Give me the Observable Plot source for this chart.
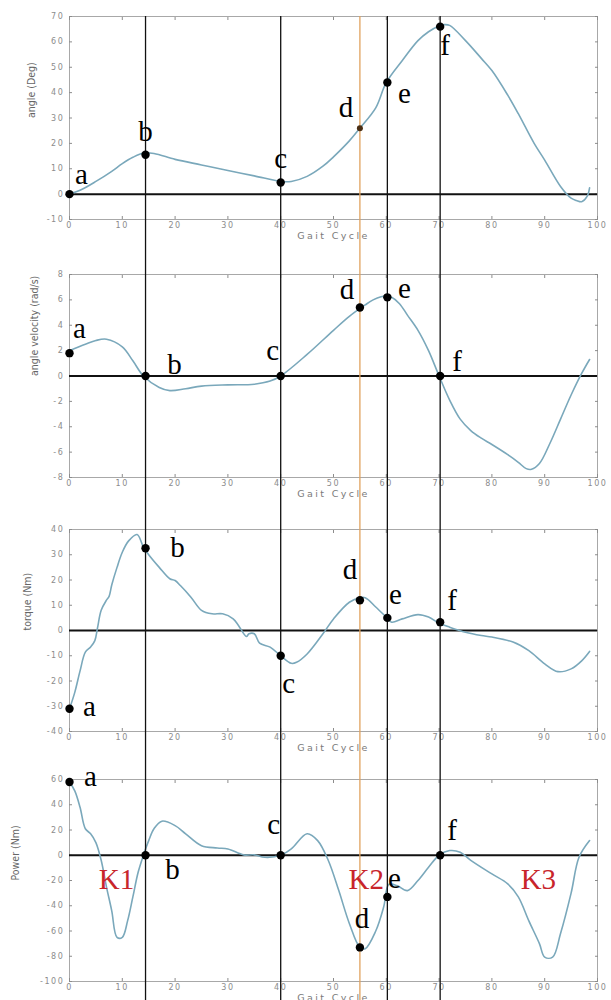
<!DOCTYPE html>
<html><head><meta charset="utf-8">
<script src="https://cdn.jsdelivr.net/npm/d3@7"></script>
<script src="https://cdn.jsdelivr.net/npm/@observablehq/plot@0.6"></script>
<style>
body{margin:0;background:#fff;}
#chart svg{display:block;}
g[aria-label="x-axis tick label"] text, g[aria-label="y-axis tick label"] text{letter-spacing:1.6px;}
.gait text{letter-spacing:2.4px;}
</style></head><body><div id="chart"></div>
<script>
// ---- data ----
const xTicks = [0,10,20,30,40,50,60,70,80,90,100];
const eventNames = ["a","b","c","d","e","f"];
const eventX = [0, 14.4, 40, 55, 60.2, 70.2];
const guideX = [14.4, 40, 60.2, 70.2];
const highlightX = [55];

const angleTicks = [-10,0,10,20,30,40,50,60,70];
const angleX = [0,2,5,8,10,12,14,16,20,25,30,35,40,42,45,48,50,53,55,58,60,63,66,68,70,71,72,75,78,80,83,85,88,90,93,95,96,97,98,98.5];
const angleY = [0,1.5,5,9,12,14.5,16.2,16,13.7,11.5,9.3,7.2,5,5,7,11,14.7,21,26,34,44,52.6,60.5,64,66.3,66.8,66.5,60.5,53.5,48.7,39,31.7,20,13.4,3,-1.6,-2.5,-3,-1,2.5];
const angleDots = [0, 15.5, 4.6, 26, 44, 66];

const velTicks = [-8,-6,-4,-2,0,2,4,6,8];
const velX = [0,3,5,7,10,12,14,17,19,22,25,30,35,38,40,45,50,53,56,57.5,59,60,61,62.5,64,66,68,70,72,74,76,78,80,83,85,86.5,87.5,89,91,93,95,97,98.5];
const velY = [2,2.5,2.8,2.9,2.3,1.2,0,-0.9,-1.15,-1,-0.8,-0.7,-0.65,-0.4,0,1.7,3.6,4.7,5.6,6.0,6.25,6.3,6.2,5.7,4.8,3.6,2.0,0,-1.9,-3.4,-4.3,-4.9,-5.4,-6.2,-6.8,-7.3,-7.35,-6.9,-5.3,-3.4,-1.5,0.2,1.3];
const velDots = [1.8, 0, 0, 5.4, 6.2, 0];

const torqueTicks = [-40,-30,-20,-10,0,10,20,30,40];
const torqueX = [0,1,2,3,4,4.8,5.3,6,7,7.5,8,9,10,11.2,12.8,14,15,17,19,20,21,23,25,27,29,31,32,33.5,34,35,36,38,40,42,43,45,48,50,53,55,56,58,60,61,63,66,68,70,72,75,78,80,84,87,90,92.5,95,97,98.5];
const torqueY = [-31,-24.5,-16,-8.6,-6.5,-4,1,8,12,13.5,18,25,31,35.5,38,33,30,25,20.5,19.8,17.8,13.2,8,6.6,6.6,4.6,2,-2.4,-1.3,-1.3,-5,-6.6,-10,-13,-12.6,-9.3,-1.3,4.6,11.2,13,13,9.3,5.3,3.3,4.6,6.3,5.3,2.9,1.3,-0.7,-2,-2.6,-4.6,-8,-13.2,-16.3,-15.2,-12,-8.3];
const torqueDots = [-31, 32.6, -10, 12, 5, 3.3];

const powerTicks = [-100,-80,-60,-40,-20,0,20,40,60];
const powerX = [0,1,2,3,4,5,6,7,8,9,10,11,12,13,14,15,16,17.5,20,22,25,28,30,33,35,37,40,42,45,47,49,51,53,55,56,58,59.5,60.5,62,64,66,68,70,72,74,76,80,83,85,87,89,90,91.5,93,95,96.5,98.5];
const powerY = [58,51,38,21,17,10,-4,-25,-44,-65,-65,-52,-33,-13.5,0,11.6,21,27,23.5,17,7.6,5.8,5,0.3,0.3,-1.6,0,5,17,11.6,-4,-28,-54,-73,-74,-60,-41,-23,-24,-28,-20,-9.5,0,3.7,2.4,-4,-14.8,-22.7,-33,-52,-70,-80.7,-80.7,-62,-30,-1.6,11.6];
const powerDots = [58, 0, 0, -73, -33, 0];

const phaseNames = ["K1","K2","K3"];
const phaseX = [8.9, 56.2, 88.8];
const phaseY = [-19, -19, -19];

// ---- drawing ----
const serif = "'Liberation Serif', 'Times New Roman', serif";
const narrow = "'Liberation Sans Narrow', 'DejaVu Sans Condensed', 'Liberation Sans', sans-serif";
const tickFont = "'DejaVu Sans', sans-serif";
const gray = "#8c8c8c";

function panel(cfg) {
  const curve = cfg.xs.map((x, i) => ({x, y: cfg.ys[i]}));
  const pts = eventX.map((x, i) => ({x, y: cfg.dots[i], name: eventNames[i]}));
  const marks = [
    Plot.frame({stroke: "#a8a8a8"}),
    Plot.axisX({ticks: xTicks, tickSize: -3, tickPadding: 6, tickFormat: d => String(d), label: null, color: gray, fontSize: 8, fontFamily: tickFont}),
    Plot.axisX({anchor: "top", ticks: xTicks, tickSize: -3, tickFormat: () => "", label: null, color: gray}),
    Plot.axisY({ticks: cfg.yTicks, tickSize: -3, tickPadding: 8, tickFormat: d => String(d), label: null, color: gray, fontSize: 8, fontFamily: tickFont}),
    Plot.axisY({anchor: "right", ticks: cfg.yTicks, tickSize: -3, tickFormat: () => "", label: null, color: gray}),
    Plot.text(["Gait Cycle"], {frameAnchor: "bottom", dy: 19, fill: "#7a7a7a", fontSize: 9.5, fontFamily: tickFont, className: "gait"}),
    Plot.text([cfg.yLabel], {frameAnchor: "left", rotate: -90, dx: cfg.yLabelDx, fill: "#666", fontSize: 10.5, fontFamily: narrow}),
    Plot.ruleY([0], {stroke: "#111", strokeWidth: 2}),
    Plot.line(curve, {x: "x", y: "y", stroke: "#7aa8bb", strokeWidth: 1.6, curve: "catmull-rom"}),
    Plot.ruleX(guideX, {stroke: "#111", strokeWidth: 1.3, insetTop: -cfg.ruleTop, insetBottom: -cfg.ruleBottom}),
    Plot.ruleX(highlightX, {stroke: "#e0a25e", strokeWidth: 1.3, insetTop: -cfg.ruleTop, insetBottom: -cfg.ruleBottom}),
  ];
  pts.forEach((p, i) => {
    const small = cfg.smallDot === i;
    marks.push(Plot.dot([p], {x: "x", y: "y", r: small ? 3 : 4.2, fill: small ? "#4a2e14" : "#000"}));
    marks.push(Plot.text([p], {x: "x", y: "y", text: "name", dx: cfg.offsets[i][0], dy: cfg.offsets[i][1], fontSize: 29, fontFamily: serif, fill: "#000"}));
  });
  if (cfg.phases) {
    marks.push(Plot.text(phaseNames.map((n, i) => ({n, x: phaseX[i], y: phaseY[i]})), {x: "x", y: "y", text: "n", fontSize: 29, fontFamily: serif, fill: "#c8252b"}));
  }
  return Plot.plot({
    width: 611, height: cfg.height,
    marginLeft: 69, marginRight: 14, marginTop: cfg.mt, marginBottom: cfg.mb,
    x: {domain: [0, 100]},
    y: {domain: cfg.yDomain},
    style: {background: "#fff", overflow: "visible"},
    marks
  });
}

const root = document.getElementById("chart");
root.append(panel({
  xs: angleX, ys: angleY, dots: angleDots, yDomain: [-10, 70], yTicks: angleTicks, yLabel: "angle (Deg)", yLabelDx: -38,
  height: 255, mt: 16, mb: 36, ruleTop: 0, ruleBottom: 36, smallDot: 3,
  offsets: [[12, -19], [0, -23], [0, -24], [-14, -20], [17, 11], [5, 19]]
}));
root.append(panel({
  xs: velX, ys: velY, dots: velDots, yDomain: [-8, 8], yTicks: velTicks, yLabel: "angle velocity (rad/s)", yLabelDx: -35,
  height: 255, mt: 19, mb: 33, ruleTop: 19, ruleBottom: 33,
  offsets: [[10, -24], [29, -11], [-8, -25], [-13, -18], [17, -9], [17, -14]]
}));
root.append(panel({
  xs: torqueX, ys: torqueY, dots: torqueDots, yDomain: [-40, 40], yTicks: torqueTicks, yLabel: "torque (Nm)", yLabelDx: -42,
  height: 255, mt: 19, mb: 34, ruleTop: 19, ruleBottom: 34,
  offsets: [[20, -2], [32, 0], [8, 28], [-10, -30], [8, -23], [12, -21]]
}));
root.append(panel({
  xs: powerX, ys: powerY, dots: powerDots, yDomain: [-100, 60], yTicks: powerTicks, yLabel: "Power (Nm)", yLabelDx: -54,
  height: 235, mt: 14, mb: 19, ruleTop: 14, ruleBottom: 19, phases: true,
  offsets: [[21, -5], [27, 14], [-7, -31], [2, -29], [7, -18], [12, -25]]
}));
</script></body></html>
